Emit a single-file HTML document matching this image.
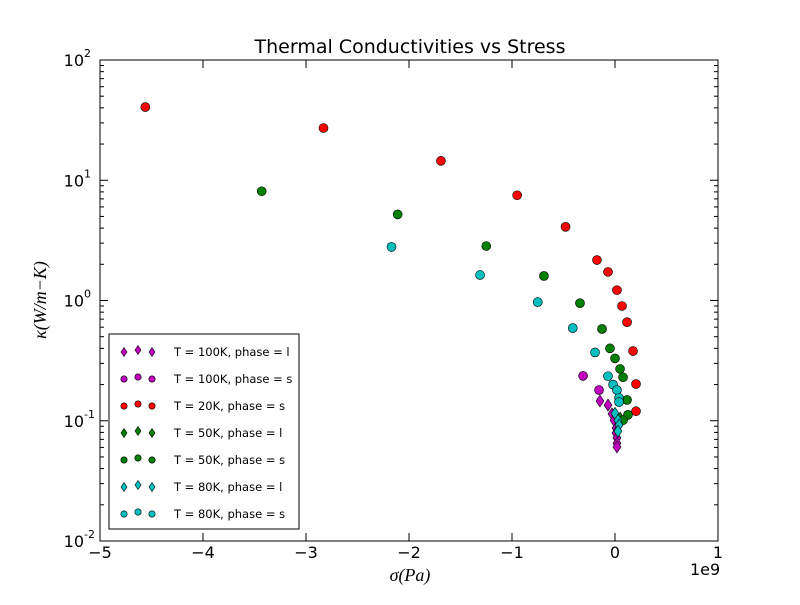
<!DOCTYPE html>
<html><head><meta charset="utf-8"><style>
body{margin:0;background:#fff}
svg{font-family:"DejaVu Sans","Liberation Sans",sans-serif}
</style></head><body>
<svg id="chart" width="800" height="600" viewBox="0 0 800 600">
<rect x="0" y="0" width="800" height="600" fill="#fff"/>
<text x="410" y="53" font-size="19" text-anchor="middle">Thermal Conductivities vs Stress</text>
<g id="axes"></g>
<g id="marks"></g>
<rect x="100" y="60" width="618" height="481" fill="none" stroke="#000" stroke-width="1"/>
<g id="legend"></g>
<text x="410" y="581" font-size="18" font-style="italic" font-family="Liberation Serif,serif" text-anchor="middle">σ(Pa)</text>
<text x="690" y="575" font-size="16">1e9</text>
<text transform="translate(46,300) rotate(-90)" font-size="18" font-style="italic" font-family="Liberation Serif,serif" text-anchor="middle">κ(W/m−K)</text>
</svg>
<script>
const xTicks=[-5,-4,-3,-2,-1,0,1];
const xTickLabels=["−5","−4","−3","−2","−1","0","1"];
const yDecades=[-2,-1,0,1,2];
const yTickLabels=["10","10","10","10","10"];
const yTickExps=["-2","-1","0","1","2"];

const red_s_x=[-4.56,-2.83,-1.69,-0.95,-0.48,-0.175,-0.068,0.019,0.068,0.117,0.175,0.204,0.204];
const red_s_y=[40.6,27.2,14.5,7.5,4.1,2.17,1.73,1.22,0.90,0.66,0.38,0.202,0.12];
const green_s_x=[-3.43,-2.11,-1.25,-0.69,-0.34,-0.126,-0.049,0,0.049,0.078,0.117,0.126,0.078];
const green_s_y=[8.1,5.2,2.84,1.6,0.95,0.58,0.40,0.33,0.27,0.23,0.149,0.112,0.101];
const green_l_x=[0.05];
const green_l_y=[0.105];
const cyan_s_x=[-2.17,-1.31,-0.75,-0.41,-0.194,-0.068,-0.019,0.019,0.039,0.039];
const cyan_s_y=[2.79,1.63,0.97,0.59,0.37,0.235,0.20,0.18,0.155,0.143];
const magenta_s_x=[-0.31,-0.155];
const magenta_s_y=[0.236,0.18];
const magenta_l_x=[-0.146,-0.068,-0.029,-0.010,0.010,0.010,0.019,0.019,0.019];
const magenta_l_y=[0.146,0.135,0.114,0.101,0.087,0.079,0.072,0.065,0.0605];
const cyan_l_x=[0,0.029,0.039,0.029];
const cyan_l_y=[0.115,0.101,0.092,0.082];

const NS="http://www.w3.org/2000/svg";
const X0=100,X1=718,Y0=541,Y1=60;
function sx(v){return X0+(v+5)/6*(X1-X0);}
function sy(v){return Y0-(Math.log10(v)+2)/4*(Y0-Y1);}
function mk(tag,attrs,parent){const e=document.createElementNS(NS,tag);for(const k in attrs)e.setAttribute(k,attrs[k]);parent.appendChild(e);return e;}
const axes=document.getElementById('axes');
xTicks.forEach((t,i)=>{
  const x=sx(t);
  const l1=mk('line',{x1:x,x2:x,y1:Y0,y2:Y0-8,stroke:'#000'},axes);
  
  
  const l2=mk('line',{x1:x,x2:x,y1:Y1,y2:Y1+8,stroke:'#000'},axes);
  
  
  const tx=mk('text',{x:x,y:558,'font-size':16,'text-anchor':'middle'},axes);
  tx.textContent=xTickLabels[i];
  
  
});
yDecades.forEach((d,i)=>{
  const y=sy(Math.pow(10,d));
  [[X0,X0+8],[X1,X1-8]].forEach(p=>{
    const l=mk('line',{x1:p[0],x2:p[1],y1:y,y2:y,stroke:'#000'},axes);
    
    
  });
  const tx=mk('text',{x:84,y:y+6,'font-size':16,'text-anchor':'end'},axes);
  tx.textContent=yTickLabels[i];
  
  
  const ex=mk('text',{x:84,y:y-3,'font-size':11,'text-anchor':'start'},axes);
  ex.textContent=yTickExps[i];
  
  
  if(i<yDecades.length-1){
    for(let m=2;m<10;m++){
      const ym=sy(m*Math.pow(10,d));
      [[X0,X0+4],[X1,X1-4]].forEach(p=>{
        const l=mk('line',{x1:p[0],x2:p[1],y1:ym,y2:ym,stroke:'#000'},axes);
        
        
      });
    }
  }
});
const marks=document.getElementById('marks');
function circle(parent,x,y,c,name){
  const e=mk('circle',{cx:x,cy:y,r:4.5,fill:c,stroke:'#000','stroke-width':0.6},parent);
  
  
}
function diamond(parent,x,y,c,name){
  const e=mk('polygon',{points:`${x},${y-6} ${x+4},${y} ${x},${y+6} ${x-4},${y}`,fill:c,stroke:'#000','stroke-width':0.6},parent);
  
  
}
const series=[
  [magenta_l_x,magenta_l_y,'#bf00bf','d','point-100k-l'],
  [magenta_s_x,magenta_s_y,'#bf00bf','o','point-100k-s'],
  [red_s_x,red_s_y,'#ff0000','o','point-20k-s'],
  [green_l_x,green_l_y,'#008000','d','point-50k-l'],
  [green_s_x,green_s_y,'#008000','o','point-50k-s'],
  [cyan_l_x,cyan_l_y,'#00bfbf','d','point-80k-l'],
  [cyan_s_x,cyan_s_y,'#00bfbf','o','point-80k-s']
];
series.forEach(s=>{
  s[0].forEach((v,i)=>{
    (s[3]==='o'?circle:diamond)(marks,sx(v),sy(s[1][i]),s[2],s[4]);
  });
});
const leg=document.getElementById('legend');
const lb=mk('rect',{x:109,y:334,width:190,height:195,fill:'#fff',stroke:'#000'},leg);


const labels=["T = 100K, phase = l","T = 100K, phase = s","T = 20K, phase = s","T = 50K, phase = l","T = 50K, phase = s","T = 80K, phase = l","T = 80K, phase = s"];
series.forEach((s,i)=>{
  const y=352+i*27;
  const g=mk('g',{},leg);
  
  
  [[124,0],[138,-2],[152,0]].forEach(p=>{
    if(s[3]==='o'){const e=mk('circle',{cx:p[0],cy:y+p[1],r:3.2,fill:s[2],stroke:'#000','stroke-width':0.6},g);}
    else{const x=p[0],yy=y+p[1];const e=mk('polygon',{points:`${x},${yy-4.5} ${x+3},${yy} ${x},${yy+4.5} ${x-3},${yy}`,fill:s[2],stroke:'#000','stroke-width':0.6},g);}
  });
  const t=mk('text',{x:174,y:y+4,'font-size':11.5},g);
  t.textContent=labels[i];
  
  
});
</script>
</body></html>
